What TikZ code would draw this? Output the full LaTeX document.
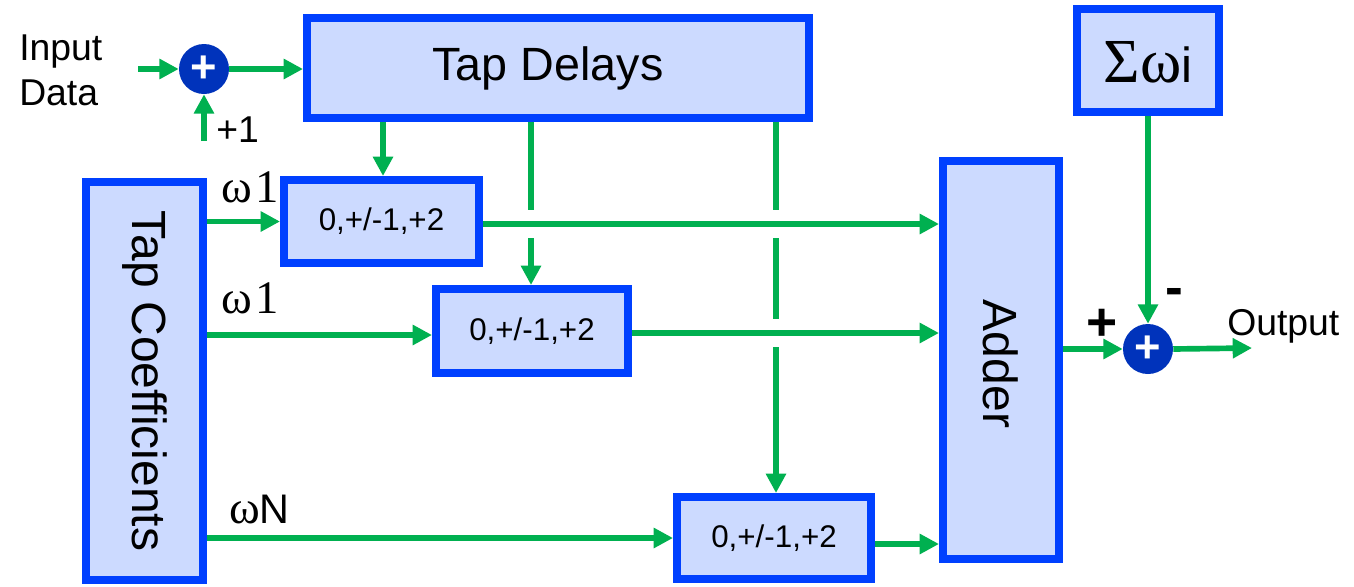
\documentclass[tikz,border=0pt]{standalone}
\usepackage{fontspec}
\setmainfont{Liberation Sans}
\newfontfamily\serifgr{Liberation Serif}
\usetikzlibrary{arrows.meta,calc}
\definecolor{bblue}{RGB}{0,64,255}
\definecolor{bfill}{RGB}{204,218,255}
\definecolor{agreen}{RGB}{0,176,80}
\definecolor{cblue}{RGB}{0,51,187}
\tikzset{
  blk/.style={draw=bblue, fill=bfill, line width=6pt, inner sep=0pt},
  sumnode/.style={circle, fill=cblue, minimum size=37.5pt, inner sep=0pt, text=white, font=\fontsize{34}{34}\selectfont\bfseries},
  arr/.style={draw=agreen, line width=4.25pt, -{Triangle[length=14.5pt,width=14.5pt]}},
  gap/.style={fill=white, draw=none},
  lbl/.style={inner sep=0pt, text=black},
}
\begin{document}
\begin{tikzpicture}[x=0.75pt,y=-0.75pt]
\useasboundingbox (0,0) rectangle (1354,586);
% boxes
\node[blk, minimum width=376.5pt, minimum height=75pt] (TD) at (558,68) {};
\node[lbl, font=\fontsize{35}{42}\selectfont] (TDt) at (548,68) {Tap Delays};
\node[blk, minimum width=87.75pt, minimum height=298.5pt] (TC) at (144.5,381) {};
\node[lbl, rotate=-90, font=\fontsize{36}{42}\selectfont] (TCt) at (144.5,381) {Tap Coefficients};
\node[blk, minimum width=146.25pt, minimum height=62.25pt, font=\fontsize{23.5}{28}\selectfont] (B1) at (381.5,221.5) {0,+/-1,+2};
\node[blk, minimum width=144pt, minimum height=63pt, font=\fontsize{23.5}{28}\selectfont] (B2) at (532,331) {0,+/-1,+2};
\node[blk, minimum width=145.5pt, minimum height=61.5pt, font=\fontsize{23.5}{28}\selectfont] (B3) at (774,538) {0,+/-1,+2};
\node[blk, minimum width=87pt, minimum height=298.5pt] (AD) at (1001,360) {};
\node[lbl, rotate=-90, font=\fontsize{36}{42}\selectfont] (ADt) at (1001,364) {Adder};
\node[blk, minimum width=106.5pt, minimum height=77.25pt] (SW) at (1148,60.5) {};
\node[lbl] (SWt) at (1148,62) {{\serifgr\fontsize{47}{50}\selectfont Σω}{\fontsize{37}{40}\selectfont i}};
% summing junctions
\node[sumnode] (S1) at (204,69) {+};
\node[sumnode] (S2) at (1148,349) {+};
% texts
\node[lbl, align=left, anchor=west, font=\fontsize{28}{33.75}\selectfont] (IN) at (19,70) {Input\\Data};
\node[lbl, anchor=base west, font=\fontsize{28}{30}\selectfont] (P1) at (216,142) {+1};
\node[lbl, anchor=base west, font=\serifgr\fontsize{35}{40}\selectfont] (W1) at (221,202) {ω\kern3pt1};
\node[lbl, anchor=base west, font=\serifgr\fontsize{35}{40}\selectfont] (W2) at (221,313) {ω\kern3pt1};
\node[lbl, anchor=base west] (WN) at (229,523) {{\serifgr\fontsize{35}{40}\selectfont ω}{\fontsize{31}{36}\selectfont N}};
\node[lbl, anchor=base west, font=\fontsize{28}{30}\selectfont] (OUT) at (1227,335) {Output};
\node[lbl, font=\fontsize{40}{40}\selectfont\bfseries] (PL) at (1102,325) {+};
\node[lbl, font=\fontsize{40}{40}\selectfont\bfseries] (MI) at (1174,297) {-};
% free ends
\coordinate (inS) at (138,69);
\coordinate (oneS) at (204,141);
\coordinate (outE) at (1252,348);
% input side
\draw[arr] (inS) -- (S1.west);
\draw[arr] (oneS) -- (S1.south);
\draw[arr] (S1.east) -- (S1.east -| TD.west);
% vertical lines from tap delays
\draw[arr] (TD.south -| 383,0) -- (383,0 |- B1.north);
\draw[arr] (TD.south -| 531,0) -- (531,0 |- B2.north);
\draw[arr] (TD.south -| 776,0) -- (776,0 |- B3.north);
% gaps at crossings
\fill[gap] (531,224) +(-7,-14) rectangle +(7,14);
\fill[gap] (776,224) +(-7,-14) rectangle +(7,14);
\fill[gap] (776,333) +(-7,-14) rectangle +(7,14);
% coefficients
\draw[arr] (TC.east |- B1.west) -- (B1.west);
\draw[arr] (TC.east |- 0,335) -- (B2.west |- 0,335);
\draw[arr] (TC.east |- B3.west) -- (B3.west);
% to adder
\draw[arr] (B1.east |- 0,224) -- (AD.west |- 0,224);
\draw[arr] (B2.east |- 0,333) -- (AD.west |- 0,333);
\draw[arr] (B3.east |- 0,544) -- (AD.west |- 0,544);
% output side
\draw[arr] (AD.east |- S2.west) -- (S2.west);
\draw[arr] (SW.south) -- (S2.north);
\draw[arr] (S2.east) -- (outE);
\end{tikzpicture}
\end{document}
